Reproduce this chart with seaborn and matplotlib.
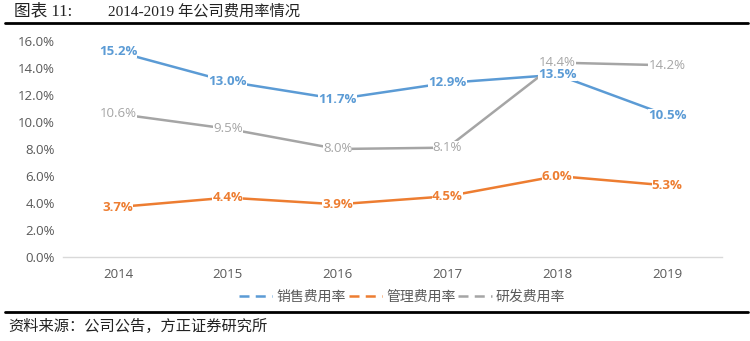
import matplotlib
matplotlib.use("Agg")
import matplotlib.pyplot as plt
from matplotlib.lines import Line2D
import seaborn as sns
import pandas as pd

years = ["2014", "2015", "2016", "2017", "2018", "2019"]
sales_rate = [15.2, 13.0, 11.7, 12.9, 13.5, 10.5]
admin_rate = [3.7, 4.4, 3.9, 4.5, 6.0, 5.3]
rd_rate = [10.6, 9.5, 8.0, 8.1, 14.4, 14.2]
series_names = ["销售费用率", "管理费用率", "研发费用率"]
y_ticks = [0, 2, 4, 6, 8, 10, 12, 14, 16]

colors = ["#5B9BD5", "#ED7D31", "#A5A5A5"]

sns.set_theme(style="white")
plt.rcParams["font.family"] = ["Noto Sans CJK SC", "DejaVu Sans"]

rows = []
for name, vals in zip(series_names, [sales_rate, admin_rate, rd_rate]):
    for i, (yr, v) in enumerate(zip(years, vals)):
        rows.append({"idx": i, "year": yr, "value": v, "series": name})
df = pd.DataFrame(rows)

fig = plt.figure(figsize=(7.5, 3.41), dpi=100)
ax = fig.add_axes([63 / 750, 1 - 257 / 341, (722 - 63) / 750, (257 - 41) / 341])

sns.lineplot(data=df, x="idx", y="value", hue="series", hue_order=series_names,
             palette=colors, linewidth=1.8, ax=ax, legend=False, sort=False)

num_font = ["Open Sans", "DejaVu Sans"]
ax.set_xlim(-0.5, 5.5)
ax.set_ylim(0, 16)
ax.set_yticks(y_ticks)
ax.set_yticklabels([f"{t:.1f}%" for t in y_ticks], color="#595959", fontsize=9.5, family=num_font)
ax.set_xticks(range(len(years)))
ax.set_xticklabels(years, color="#595959", fontsize=9.5, family=num_font)
ax.tick_params(axis="both", length=0, pad=6)
ax.tick_params(axis="x", pad=8)
ax.set_xlabel("")
ax.set_ylabel("")
for s in ["top", "right", "left"]:
    ax.spines[s].set_visible(False)
ax.spines["bottom"].set_color("#D9D9D9")
ax.spines["bottom"].set_linewidth(1)
ax.grid(False)

weights = ["bold", "bold", "normal"]
for name, vals, c, w in zip(series_names, [sales_rate, admin_rate, rd_rate], colors, weights):
    for i, v in enumerate(vals):
        ax.text(i, v, f"{v:.1f}%", color=c, fontsize=9.5, fontweight=w,
                ha="center", va="center", family=num_font,
                bbox=dict(facecolor="white", edgecolor="none", pad=0.1), zorder=5)

handles = [Line2D([0], [0], color=c, lw=1.8, linestyle=(0, (4, 2.5))) for c in colors]
fig.legend(handles, series_names, loc="center", bbox_to_anchor=(402 / 750, 1 - 297 / 341),
           ncol=3, frameon=False, fontsize=10, handlelength=2.4, handletextpad=0.3,
           columnspacing=0.2, labelcolor="#595959")

# title and rules
fig.text(14 / 750, 1 - 11 / 341, "图表 11:", fontsize=12, va="center", ha="left",
         family=["Liberation Serif", "Noto Sans CJK SC"], color="#222222")
fig.text(108 / 750, 1 - 11 / 341, "2014-2019 年公司费用率情况", fontsize=11, va="center", ha="left",
         family=["Liberation Serif", "Noto Sans CJK SC"], color="#222222")
fig.add_artist(Line2D([5 / 750, 748 / 750], [1 - 23 / 341, 1 - 23 / 341], color="black", lw=2,
                      transform=fig.transFigure))
fig.add_artist(Line2D([5 / 750, 748 / 750], [1 - 312 / 341, 1 - 312 / 341], color="black", lw=2,
                      transform=fig.transFigure))
fig.text(8 / 750, 1 - 326 / 341, "资料来源：公司公告，方正证券研究所", fontsize=11, va="center", ha="left",
         style="italic", color="#222222")

fig.savefig("out.png", dpi=100)
